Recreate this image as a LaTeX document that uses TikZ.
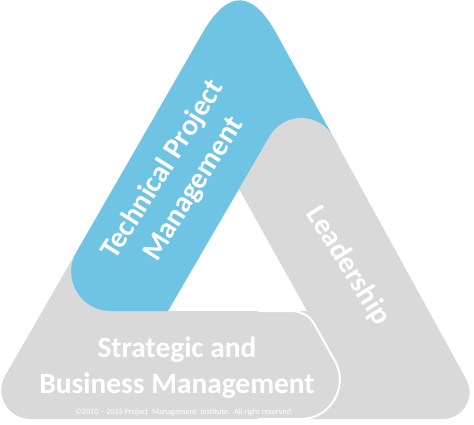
\documentclass[tikz,border=0pt]{standalone}
\usepackage{fontspec}
\setmainfont{Carlito}
\usetikzlibrary{calc}
\definecolor{tpmblue}{RGB}{112,196,227}
\definecolor{pmgray}{RGB}{217,217,217}
% rounded corner: prev, vertex, next, inset, control distance from vertex
\newcommand\rcorner[5]{-- ($(#2)!#4pt!(#1)$) .. controls ($(#2)!#5pt!(#1)$) and ($(#2)!#5pt!(#3)$) .. ($(#2)!#4pt!(#3)$)}
\newcommand\bottompath{(S) \rcorner{S}{BLo}{Lup}{50}{28} -- (Lup) -- (Hb1) -- (Hb2) \rcorner{Hb2}{Ibr}{Q}{15}{6} \rcorner{Ibr}{Q}{S}{66}{37} -- cycle}
\begin{document}
\begin{tikzpicture}[x=1pt,y=-1pt,
  lbl/.style={text=white, font=\fontsize{29.4}{36}\selectfont\bfseries, align=center, inner sep=0pt},
  copyr/.style={text=white, font=\fontsize{8.2}{10}\selectfont, inner sep=0pt},
  outline/.style={draw=white, line width=2pt}]
\useasboundingbox (0,0) rectangle (474,425);
% outer and inner vertices
\coordinate (A) at (240.2,-32.4);
\coordinate (BLo) at (-19.8,419);
\coordinate (BRo) at (488,419);
\coordinate (Ia) at (239,189);
\coordinate (Ibl) at (168,311);
\coordinate (Ibr) at (307,311);
\coordinate (P) at (302.2,80.4);
\coordinate (Q) at (367.2,419);
\coordinate (Lb) at (42.4,311);
\coordinate (R145) at (337.7,145);
\coordinate (Gin) at (300,160);
\coordinate (M1) at (141.3,139.3);
\coordinate (S) at (200,419);
\coordinate (Lup) at (83.3,240);
\coordinate (Hb1) at (150,240);
\coordinate (Hb2) at (150,311);
\coordinate (Gb1) at (265,419);
\coordinate (Gb2) at (265,311);
% bottom piece (Strategic and Business Management)
\fill[pmgray] \bottompath;
% left piece (Technical Project Management)
\fill[tpmblue] (M1) \rcorner{M1}{Lb}{Ibl}{68}{38} -- (Ibl) -- (Ia) -- (Gin) -- (R145) \rcorner{R145}{A}{M1}{75}{25} -- cycle;
% right piece (Leadership), its hidden foot runs under the bottom piece
\fill[pmgray] (Ia) \rcorner{Ia}{P}{BRo}{65}{36} \rcorner{P}{BRo}{Gb1}{45}{25} -- (Gb1) -- (Gb2) -- (Ibr) -- cycle;
% right end of the bottom piece lies over the right piece
\begin{scope}
\clip (258,300) rectangle (480,430);
\fill[pmgray] \bottompath;
\draw[outline] \bottompath;
\end{scope}
% texts
\node[lbl, rotate=58] (tech) at (178.5,179.5) {Technical Project\\Management};
\node[lbl, rotate=-58] (lead) at (348,266) {Leadership};
\node[lbl] (strat) at (177,368) {Strategic and\\Business Management};
\node[copyr] (copy) at (184,412) {©2010 – 2015 Project\ \ Management\ \ Institute.\ \ All right reserved.};
\end{tikzpicture}
\end{document}
